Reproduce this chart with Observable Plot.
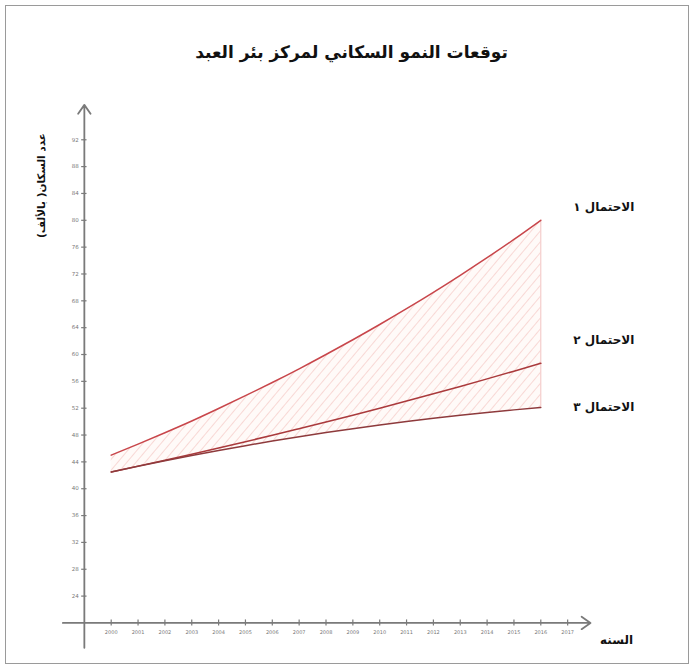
<!DOCTYPE html>
<html>
<head>
<meta charset="utf-8">
<script src="https://cdn.jsdelivr.net/npm/d3@7"></script>
<script src="https://cdn.jsdelivr.net/npm/@observablehq/plot@0.6"></script>
<style>
  html, body { margin: 0; padding: 0; background: #fff; }
  #wrap { position: relative; width: 693px; height: 668px; overflow: hidden; font-family: "DejaVu Sans", sans-serif; }
  #frame { position: absolute; left: 5px; top: 5px; width: 682px; height: 657px; border: 1px solid #9a9a9a; pointer-events: none; }
  #title { position: absolute; left: 0; top: 0; width: 703px; height: 90px; text-align: center; line-height: 104px; font-weight: bold; font-size: 17px; color: #111; direction: rtl; }
  #chart { position: absolute; left: 0; top: 90px; }
</style>
</head>
<body>
<div id="wrap">
  <div id="title">توقعات النمو السكاني لمركز بئر العبد</div>
  <div id="chart"></div>
  <div id="frame"></div>
</div>
<script>
const years = [2000, 2001, 2002, 2003, 2004, 2005, 2006, 2007, 2008, 2009, 2010, 2011, 2012, 2013, 2014, 2015, 2016];
const yearTicks = [2000, 2001, 2002, 2003, 2004, 2005, 2006, 2007, 2008, 2009, 2010, 2011, 2012, 2013, 2014, 2015, 2016, 2017];
const yTicks = [24, 28, 32, 36, 40, 44, 48, 52, 56, 60, 64, 68, 72, 76, 80, 84, 88, 92];
const scenario1 = [45.0, 46.65, 48.35, 50.1, 51.96, 53.87, 55.83, 57.87, 60.0, 62.2, 64.47, 66.83, 69.27, 71.81, 74.43, 77.15, 80.0];
const scenario2 = [42.5, 43.37, 44.25, 45.15, 46.07, 47.01, 47.97, 48.95, 49.94, 50.96, 52.0, 53.06, 54.14, 55.24, 56.37, 57.52, 58.69];
const scenario3 = [42.5, 43.35, 44.17, 44.95, 45.7, 46.42, 47.1, 47.75, 48.37, 48.95, 49.5, 50.02, 50.5, 50.95, 51.37, 51.75, 52.1];
const scenarioNames = ["الاحتمال ١", "الاحتمال ٢", "الاحتمال ٣"];
const scenarioColors = ["#c8464b", "#aa3a3c", "#8e3a3c"];
const yLabel = "عدد السكان( بالألف)";
const xLabel = "السنه";

const rows = years.map((yr, i) => ({year: yr, s1: scenario1[i], s2: scenario2[i], s3: scenario3[i]}));
const series = [scenario1, scenario2, scenario3];
const lastIdx = years.length - 1;
const labelDy = [-13, -23, 0];

const axisColor = "#7a7a7a";

const endLabelMarks = scenarioNames.map((name, k) =>
  Plot.text([{name, year: years[lastIdx], value: series[k][lastIdx]}], {
    x: "year", y: "value", text: "name", dx: 63, dy: labelDy[k],
    textAnchor: "middle", fontSize: 12, fontWeight: "bold", fill: "#111"
  })
);

const plot = Plot.plot({
  width: 693,
  height: 578,
  marginLeft: 57,
  marginRight: 99,
  marginTop: 9,
  marginBottom: 12,
  x: {domain: [1998, 2018], axis: null},
  y: {domain: [15, 98], axis: null},
  style: {fontFamily: "DejaVu Sans, sans-serif", background: "transparent", overflow: "visible"},
  marks: [
    Plot.areaY(rows, {x: "year", y1: "s3", y2: "s1", fill: "url(#hatch)", curve: "natural"}),
    Plot.ruleX([years[lastIdx]], {y1: scenario3[lastIdx], y2: scenario1[lastIdx], stroke: "#f2c2c0", strokeWidth: 1}),
    // axes
    Plot.arrow([0], {x1: 1998.2, x2: 2017.85, y1: 20, y2: 20, stroke: axisColor, strokeWidth: 1.8, headLength: 9, headAngle: 70}),
    Plot.arrow([0], {x1: 1999, x2: 1999, y1: 16.3, y2: 97.2, stroke: axisColor, strokeWidth: 1.8, headLength: 9, headAngle: 70}),
    Plot.ruleX(yearTicks, {x: d => d, y1: 19.55, y2: 20.45, stroke: axisColor, strokeWidth: 1.2}),
    Plot.ruleY(yTicks, {y: d => d, x1: 1998.9, x2: 1999.1, stroke: axisColor, strokeWidth: 1.2}),
    Plot.text(yearTicks, {x: d => d, y: 20, dy: 9, text: d => String(d), fontSize: 5, fill: "#777"}),
    Plot.text(yTicks, {x: 1999, y: d => d, dx: -9, text: d => String(d), fontSize: 5.5, fill: "#777"}),
    // lines
    Plot.line(rows, {x: "year", y: "s1", stroke: scenarioColors[0], strokeWidth: 1.5, curve: "natural"}),
    Plot.line(rows, {x: "year", y: "s2", stroke: scenarioColors[1], strokeWidth: 1.5, curve: "natural"}),
    Plot.line(rows, {x: "year", y: "s3", stroke: scenarioColors[2], strokeWidth: 1.5, curve: "natural"}),
    // end labels
    ...endLabelMarks,
    // axis labels
    Plot.text([yLabel], {frameAnchor: "top-left", dx: -20, dy: 86, rotate: -90, textAnchor: "middle", fontSize: 10.5, fontWeight: "bold", fill: "#111"}),
    Plot.text([xLabel], {frameAnchor: "bottom-right", dx: 22, dy: -13, textAnchor: "middle", fontSize: 12, fontWeight: "bold", fill: "#111"})
  ]
});

// hatch pattern
const ns = "http://www.w3.org/2000/svg";
const defs = document.createElementNS(ns, "defs");
defs.innerHTML = `<pattern id="hatch" patternUnits="userSpaceOnUse" width="7" height="7" patternTransform="rotate(40)">
  <rect width="7" height="7" fill="#fffaf8"></rect>
  <line x1="0" y1="0" x2="0" y2="7" stroke="#f5c6c3" stroke-width="1.3"></line>
</pattern>`;
plot.insertBefore(defs, plot.firstChild);
document.getElementById("chart").appendChild(plot);
</script>
</body>
</html>
